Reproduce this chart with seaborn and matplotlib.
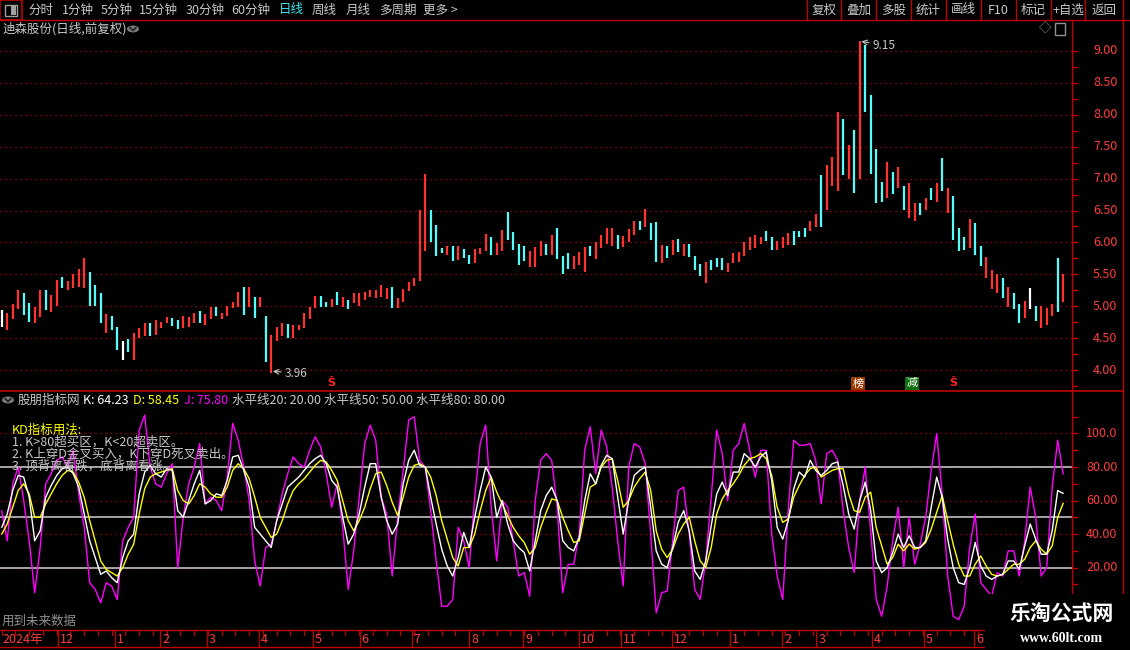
import numpy as np
import pandas as pd
import matplotlib.pyplot as plt
import matplotlib.transforms as mtransforms
from matplotlib.patches import Rectangle, Circle
import seaborn as sns

sns.set_theme(style="dark")
plt.rcParams['font.family'] = ['Noto Sans CJK SC', 'DejaVu Sans']
plt.rcParams['axes.unicode_minus'] = False

# daily bars at two sessions per bar
low = [4.67, 4.62, 4.80, 4.95, 4.86, 4.76, 4.73, 4.83, 4.94, 4.91,
       5.01, 5.28, 5.25, 5.28, 5.30, 5.29, 5.01, 5.00, 4.73, 4.58,
       4.63, 4.32, 4.16, 4.28, 4.16, 4.50, 4.53, 4.54, 4.55, 4.66,
       4.73, 4.69, 4.64, 4.66, 4.68, 4.73, 4.74, 4.70, 4.80, 4.84,
       4.80, 4.85, 4.97, 4.99, 4.87, 4.99, 4.82, 4.99, 4.12, 3.96,
       4.45, 4.53, 4.50, 4.50, 4.62, 4.66, 4.80, 4.97, 4.99, 4.98,
       4.99, 5.02, 4.99, 4.95, 5.05, 5.00, 5.10, 5.14, 5.13, 5.15,
       5.12, 4.97, 4.97, 5.07, 5.24, 5.31, 5.39, 5.87, 6.01, 5.79,
       5.83, 5.80, 5.71, 5.72, 5.75, 5.66, 5.68, 5.82, 5.87, 5.80,
       5.80, 5.87, 6.04, 5.88, 5.65, 5.71, 5.62, 5.62, 5.79, 5.80,
       5.80, 5.74, 5.51, 5.58, 5.59, 5.65, 5.54, 5.79, 5.74, 5.91,
       5.98, 5.94, 5.90, 5.93, 6.01, 6.11, 6.19, 6.24, 6.04, 5.70,
       5.68, 5.76, 5.80, 5.85, 5.79, 5.77, 5.56, 5.48, 5.37, 5.56,
       5.62, 5.56, 5.54, 5.68, 5.70, 5.79, 5.88, 5.92, 5.98, 6.03,
       5.88, 5.88, 5.91, 5.96, 5.96, 6.08, 6.08, 6.18, 6.24, 6.24,
       6.51, 6.88, 6.81, 7.06, 7.00, 6.77, 7.00, 8.05, 7.07, 6.61,
       6.64, 6.69, 6.76, 6.85, 6.51, 6.38, 6.34, 6.43, 6.51, 6.67,
       6.64, 6.80, 6.46, 6.04, 5.86, 5.88, 5.91, 5.80, 5.63, 5.44,
       5.27, 5.21, 5.13, 4.99, 4.96, 4.74, 4.82, 4.96, 4.77, 4.66,
       4.70, 4.84, 4.91, 5.07]
high = [4.94, 4.89, 5.04, 5.26, 5.20, 5.05, 4.99, 5.26, 5.26, 5.18,
        5.41, 5.46, 5.40, 5.51, 5.58, 5.76, 5.54, 5.33, 5.20, 4.88,
        4.85, 4.68, 4.45, 4.49, 4.58, 4.66, 4.73, 4.73, 4.78, 4.76,
        4.83, 4.81, 4.78, 4.84, 4.83, 4.90, 4.92, 4.88, 4.99, 4.98,
        4.89, 5.01, 5.06, 5.23, 5.30, 5.30, 5.15, 5.15, 4.84, 4.55,
        4.68, 4.73, 4.72, 4.71, 4.71, 4.89, 4.99, 5.16, 5.16, 5.07,
        5.12, 5.22, 5.15, 5.10, 5.20, 5.20, 5.22, 5.26, 5.26, 5.33,
        5.28, 5.30, 5.13, 5.27, 5.38, 5.44, 6.51, 7.08, 6.51, 6.27,
        5.92, 5.95, 5.94, 5.94, 5.90, 5.80, 5.89, 5.91, 6.13, 6.09,
        5.99, 6.19, 6.47, 6.16, 5.97, 5.94, 5.86, 5.93, 6.02, 5.98,
        6.11, 6.22, 5.79, 5.83, 5.78, 5.85, 5.93, 5.94, 6.01, 6.11,
        6.22, 6.22, 6.11, 6.10, 6.21, 6.33, 6.34, 6.52, 6.30, 6.32,
        5.96, 5.94, 6.04, 6.05, 5.98, 5.97, 5.79, 5.66, 5.69, 5.73,
        5.76, 5.76, 5.68, 5.83, 5.85, 6.00, 6.08, 6.11, 6.09, 6.18,
        6.09, 6.02, 6.08, 6.14, 6.18, 6.18, 6.23, 6.33, 6.44, 7.05,
        7.21, 7.34, 8.05, 7.93, 7.53, 7.76, 9.15, 9.10, 8.31, 7.46,
        6.95, 7.26, 7.10, 7.18, 6.88, 6.93, 6.61, 6.61, 6.69, 6.85,
        6.93, 7.33, 6.85, 6.72, 6.22, 6.08, 6.36, 6.30, 5.95, 5.77,
        5.57, 5.51, 5.44, 5.30, 5.20, 5.04, 5.08, 5.29, 5.01, 5.01,
        4.97, 5.04, 5.76, 5.51]
# r = up (red), g = down (cyan), w = unchanged (white)
direction = ("wrrrggrrgr" "rgrrrrgggr" "ggwgrrrgrr" "rggrrrgrrg" "rrrrgrgrgr"
             "rrgrrrrrgg" "rgrgrrrrrr" "rgrrrrrrgg" "grgrggrrrg" "rrggggrrrg"
             "rgggrrrgrr" "rrgrrrgrgg" "rgrgrgggrg" "ggrrrrrrrg" "grrrgggrrg"
             "rrrgrgrggg" "grgrgrrgrg" "rgrgggrggr" "rrgrggrwgr" "rrgr")

# KDJ indicator values
K = [44, 52, 66, 75, 74, 62, 36, 42, 62, 69,
     75, 79, 80, 76, 68, 52, 36, 26, 16, 18,
     14, 11, 26, 36, 40, 64, 77, 81, 76, 74,
     79, 78, 54, 50, 60, 70, 78, 58, 60, 64,
     63, 72, 86, 87, 78, 68, 44, 40, 36, 32,
     48, 58, 68, 71, 74, 78, 82, 85, 87, 82,
     72, 68, 50, 34, 40, 52, 68, 82, 82, 62,
     48, 40, 46, 70, 84, 90, 81, 80, 62, 46,
     31, 21, 15, 26, 41, 32, 50, 66, 80, 74,
     50, 60, 46, 36, 32, 29, 18, 36, 54, 63,
     68, 60, 36, 32, 30, 38, 60, 76, 70, 81,
     87, 85, 62, 40, 60, 75, 78, 80, 56, 30,
     22, 20, 32, 47, 54, 42, 18, 13, 24, 45,
     64, 71, 63, 77, 77, 88, 85, 80, 86, 89,
     72, 44, 37, 48, 67, 77, 74, 84, 78, 75,
     78, 82, 83, 69, 52, 43, 60, 71, 54, 24,
     17, 20, 29, 40, 32, 39, 32, 32, 36, 56,
     74, 62, 37, 20, 11, 10, 20, 35, 21, 15,
     13, 15, 16, 24, 24, 19, 33, 46, 37, 28,
     28, 42, 66, 64.23]
D = [40, 46, 56, 66, 70, 64, 50, 50, 58, 64,
     70, 75, 78, 77, 71, 62, 48, 36, 24, 19,
     17, 15, 20, 28, 34, 52, 67, 74, 76, 77,
     78, 79, 66, 60, 58, 63, 70, 68, 64, 62,
     62, 68, 78, 82, 79, 73, 62, 50, 44, 38,
     40, 48, 58, 66, 70, 73, 77, 81, 84, 83,
     78, 72, 60, 48, 42, 48, 56, 67, 76, 77,
     69, 59, 51, 62, 74, 81, 82, 80, 74, 63,
     48, 37, 26, 21, 32, 32, 40, 54, 66, 74,
     65, 58, 51, 44, 39, 35, 28, 32, 44, 53,
     61, 60, 50, 42, 35, 36, 52, 68, 70, 80,
     84, 85, 72, 56, 60, 68, 73, 77, 66, 42,
     31, 26, 31, 40, 46, 50, 36, 24, 20, 32,
     52, 61, 66, 70, 75, 81, 85, 86, 88, 85,
     75, 56, 47, 49, 62, 69, 75, 79, 80, 74,
     76, 78, 79, 79, 64, 54, 53, 62, 65, 44,
     33, 22, 26, 34, 30, 34, 31, 32, 35, 43,
     53, 63, 48, 34, 22, 15, 15, 22, 27, 21,
     16, 15, 16, 19, 22, 22, 25, 32, 36, 31,
     28, 33, 50, 58.45]
J = [54, 36, 70, 80, 60, 36, 5, 32, 70, 76,
     84, 86, 80, 90, 64, 44, 11, 7, -1, 11,
     9, 1, 36, 44, 50, 102, 111, 80, 70, 68,
     76, 82, 20, 50, 70, 80, 94, 58, 62, 60,
     54, 74, 106, 96, 80, 60, 24, 9, 32, 34,
     48, 64, 76, 86, 82, 80, 90, 98, 92, 76,
     56, 70, 44, 7, 30, 62, 94, 105, 96, 62,
     52, 15, 50, 78, 108, 110, 84, 80, 54, 24,
     -3, -3, 1, 44, 36, 20, 62, 94, 105, 56,
     24, 60, 56, 36, 15, 17, 3, 60, 84, 88,
     84, 56, 5, 22, 22, 40, 90, 104, 76, 102,
     92, 68, 36, 9, 80, 94, 92, 82, 40, -7,
     5, 6, 36, 66, 68, 40, 7, 1, 24, 62,
     102, 88, 60, 90, 94, 106, 90, 74, 90, 90,
     40, 15, 1, 54, 96, 93, 93, 94, 84, 58,
     88, 90, 84, 54, 32, 17, 60, 80, 42, 1,
     -9, 9, 36, 56, 20, 50, 22, 34, 50, 78,
     100, 64, 15, -9, -11, -3, 32, 52, 11, 7,
     3, 17, 15, 30, 30, 15, 36, 68, 50, 15,
     20, 68, 96, 75.80]

price_ticks = [4.00, 4.50, 5.00, 5.50, 6.00, 6.50, 7.00, 7.50, 8.00, 8.50, 9.00]
kdj_ticks = [100, 80, 60, 40, 20]
kdj_tick_text = ['100.0', '80.00', '60.00', '40.00', '20.00']
hlines_kdj = [20, 50, 80]
month_labels = ['12', '1', '2', '3', '4', '5', '6', '7', '8', '9', '10', '11', '12',
                '1', '2', '3', '4', '5', '6']
month_bar = [10.2, 20.6, 28.8, 37.3, 46.8, 56.6, 65.1, 74.6, 85.0, 94.8, 105.0, 112.6,
             121.9, 132.4, 141.9, 148.1, 158.2, 167.7, 176.8]
sell_bars = [60, 173]
toolbar_left = ['分时', '1分钟', '5分钟', '15分钟', '30分钟', '60分钟', '日线', '周线', '月线', '多周期', '更多 >']
toolbar_right = ['复权', '叠加', '多股', '统计', '画线', 'F10', '标记', '+自选', '返回']

W, H = 1130, 650
FRAME = '#c00000'
TRED = '#ff3c3c'
GREY = '#c8c8c8'
UP, DOWN, FLAT = '#ff3232', '#54fcfc', '#ffffff'

fig = plt.figure(figsize=(W / 100, H / 100), dpi=100, facecolor='black')


def fx(x):
    return x / W


def fy(y):
    return 1 - y / H


def panel(x0, y0, x1, y1):
    a = fig.add_axes([x0 / W, 1 - y1 / H, (x1 - x0) / W, (y1 - y0) / H])
    a.set_facecolor('black')
    a.set_axis_off()
    return a


def line(xs, ys, color=FRAME, lw=1.0, z=2):
    fig.add_artist(plt.Line2D([fx(v) for v in xs], [fy(v) for v in ys], color=color, lw=lw, zorder=z))


def ftext(x, y, s, color=GREY, size=9, **kw):
    fig.text(fx(x), fy(y), s, color=color, fontsize=size, va='center', **kw)


XLIM = (-0.31, 194.6)
idx = np.arange(len(low))
bars = pd.DataFrame({'low': low, 'high': high, 'dir': list(direction)})
bars['color'] = bars['dir'].map({'r': UP, 'g': DOWN, 'w': FLAT})

# ---- price panel
ax = panel(0, 36, 1072, 390)
ax.set_xlim(*XLIM)
ax.set_ylim(3.687, 9.235)
for p in price_ticks:
    ax.axhline(p, color='#b40000', lw=0.9, ls=(0, (1, 3)), zorder=0)
ax.vlines(idx, bars['low'], bars['high'], colors=bars['color'], lw=1.6, zorder=2)

imax = int(np.argmax(high))
imin = int(np.argmin(low))
ax.annotate(f'{high[imax]:.2f}', xy=(imax + 0.3, high[imax]), xytext=(imax + 2.3, high[imax] - 0.06),
            color=GREY, fontsize=8.5, va='center', ha='left',
            arrowprops=dict(arrowstyle='->', color=GREY, lw=0.8, shrinkA=0, shrinkB=0))
ax.annotate(f'{low[imin]:.2f}', xy=(imin + 0.3, low[imin] + 0.02), xytext=(imin + 2.4, low[imin] - 0.01),
            color=GREY, fontsize=8.5, va='center', ha='left',
            arrowprops=dict(arrowstyle='->', color=GREY, lw=0.8, shrinkA=0, shrinkB=0))
for b in sell_bars:
    ax.text(b, 3.80, 'Ŝ', color='#ff2020', fontsize=8, fontweight='bold', ha='center', va='center')
ax.text(155.7, 3.79, '榜', color='white', fontsize=8, ha='center', va='center',
        bbox=dict(boxstyle='square,pad=0.1', fc='#9a3a00', ec='none'))
ax.text(165.5, 3.79, '减', color='white', fontsize=8, ha='center', va='center',
        bbox=dict(boxstyle='square,pad=0.1', fc='#107010', ec='none'))

# right price scale
axr = panel(1072, 36, 1123, 390)
axr.set_ylim(3.687, 9.235)
tr = mtransforms.blended_transform_factory(axr.transAxes, axr.transData)
for p in np.arange(3.75, 9.26, 0.25):
    axr.plot([0, 0.09], [p, p], color=FRAME, lw=1, transform=tr)
for p in price_ticks:
    axr.text(0.89, p, f'{p:.2f}', color=TRED, fontsize=9, ha='right', va='center', transform=tr)

# ---- KDJ panel
axk = panel(0, 408, 1072, 628)
axk.set_xlim(*XLIM)
axk.set_ylim(-16.0, 115.2)
for v in kdj_ticks:
    axk.axhline(v, color='#b40000', lw=0.9, ls=(0, (1, 3)), zorder=0)
for v in hlines_kdj:
    axk.axhline(v, color='#c0c0c0', lw=1.2, zorder=1)
kdj = pd.DataFrame({'bar': idx, 'K': K, 'D': D, 'J': J})
sns.lineplot(data=kdj, x='bar', y='J', color='#ff00ff', lw=1.0, ax=axk, zorder=3)
sns.lineplot(data=kdj, x='bar', y='D', color='#ffff00', lw=1.0, ax=axk, zorder=4)
sns.lineplot(data=kdj, x='bar', y='K', color='white', lw=1.0, ax=axk, zorder=5)
axk.set_axis_off()

axkr = panel(1072, 408, 1123, 628)
axkr.set_ylim(-16.0, 115.2)
trk = mtransforms.blended_transform_factory(axkr.transAxes, axkr.transData)
for v in range(0, 111, 10):
    axkr.plot([0, 0.09], [v, v], color=FRAME, lw=1, transform=trk)
for v, s in zip(kdj_ticks, kdj_tick_text):
    axkr.text(0.89, v, s, color=TRED, fontsize=9, ha='right', va='center', transform=trk)

# ---- frame lines
line([0, W], [20, 20])
line([1072, 1072], [20, 630])
line([1123, 1123], [20, H])
line([0, 1123], [391, 391], lw=1.2)
line([0, 1123], [630, 630])
line([0, 1123], [647, 647])

# ---- toolbar
fig.add_artist(Rectangle((0, fy(20)), fx(22), 20 / H, transform=fig.transFigure,
                         fill=False, ec=FRAME, lw=1.2))
fig.add_artist(Rectangle((fx(5), fy(16)), fx(12), 11 / H, transform=fig.transFigure,
                         fill=False, ec='#a0a0a0', lw=1.0))
fig.add_artist(Rectangle((fx(11), fy(15)), fx(5), 9 / H, transform=fig.transFigure,
                         fc='#a0a0a0', ec='none'))
tool_x = [28, 62, 101, 139, 186, 231, 279, 312, 346, 379, 423]
for x, s in zip(tool_x, toolbar_left):
    ftext(x, 10, s, color='#40e8f0' if s == '日线' else GREY, size=9)
seps = [807, 841, 876, 911, 946, 981, 1016, 1051, 1085, 1123]
for x in seps:
    line([x, x], [0, 20])
for i, s in enumerate(toolbar_right):
    ftext((seps[i] + seps[i + 1]) / 2, 10, s, size=9, ha='center')

# title row
ftext(3, 29, '迪森股份(日线,前复权)', size=9)
fig.add_artist(Circle((fx(133), fy(29)), 6 / W, transform=fig.transFigure, fc='#7a7a7a', ec='none'))
line([130, 133, 136], [27.5, 30.5, 27.5], color='#202020', lw=1.2, z=3)
ftext(1045, 29, '◇', color='#909090', size=9, ha='center')
fig.add_artist(Rectangle((fx(1055), fy(35)), fx(10), 12 / H, transform=fig.transFigure,
                         fill=False, ec='#909090', lw=1.0))

# KDJ header
fig.add_artist(Circle((fx(8), fy(400)), 6 / W, transform=fig.transFigure, fc='#7a7a7a', ec='none'))
line([5, 8, 11], [398.5, 401.5, 398.5], color='#202020', lw=1.2, z=3)
ftext(18, 400, '股朋指标网', size=9)
ftext(83, 400, f'K: {K[-1]:.2f}', color='white', size=9)
ftext(133, 400, f'D: {D[-1]:.2f}', color='#ffff00', size=9)
ftext(184, 400, f'J: {J[-1]:.2f}', color='#ff00ff', size=9)
ftext(232, 400, '水平线20: 20.00', size=9)
ftext(324, 400, '水平线50: 50.00', size=9)
ftext(416, 400, '水平线80: 80.00', size=9)

ftext(12, 430, 'KD指标用法:', color='#ffff00', size=9, zorder=6)
ftext(12, 442, '1. K>80超买区，K<20超卖区。', size=9, zorder=6)
ftext(12, 454, '2. K上穿D金叉买入，K下穿D死叉卖出。', size=9, zorder=6)
ftext(12, 466, '3. 顶背离看跌，底背离看涨。', size=9, zorder=6)
ftext(2, 621, '用到未来数据', color='#909090', size=9, zorder=6)

# ---- date strip
axd = panel(0, 630, 1072, 647)
axd.set_xlim(*XLIM)
axd.set_ylim(0, 1)
for b in np.arange(0, 194, 2.5):
    axd.plot([b, b], [0.72, 1], color=FRAME, lw=0.9)
for b, s in zip(month_bar, month_labels):
    axd.plot([b, b], [0, 1], color=FRAME, lw=0.9)
    axd.text(b + 0.35, 0.45, s, color=TRED, fontsize=9, va='center', ha='left')
ftext(2, 639, '2024年', color=TRED, size=9, zorder=6)

# ---- watermark
fig.add_artist(Rectangle((fx(985), 0), fx(W - 985), 56 / H, transform=fig.transFigure,
                         fc='black', ec='none', zorder=7))
ftext(1062, 613, '乐淘公式网', color='white', size=15, fontweight='bold', ha='center', zorder=8)
fig.text(fx(1062), fy(639), 'www.60lt.com', color='white', fontsize=10, fontweight='bold',
         family='Liberation Serif', ha='center', va='center', zorder=8)

fig.savefig('out.png', dpi=100, facecolor='black')
